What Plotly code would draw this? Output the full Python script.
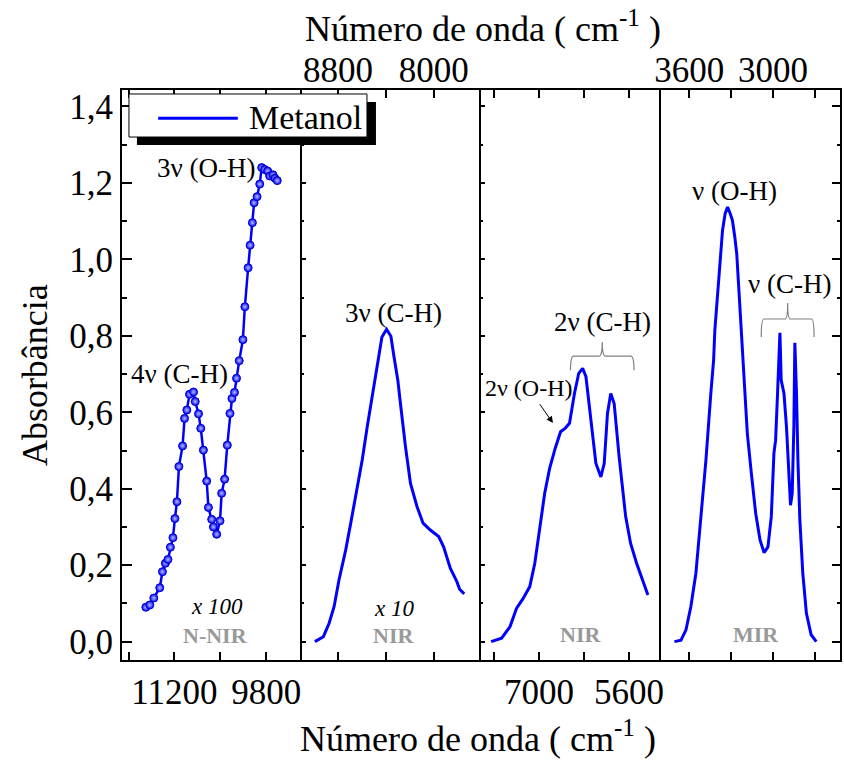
import plotly.graph_objects as go

# ---- Spectra of methanol, four wavenumber windows ----
# N-NIR window (absorbance scaled x100), measured points
nnir_wn = [11636, 11576, 11515, 11424, 11383, 11338, 11299, 11262, 11223, 11193,
           11162, 11132, 11076, 11046, 11011, 10970, 10909, 10883, 10833, 10798,
           10758, 10708, 10682, 10632, 10606, 10556, 10505, 10480, 10435, 10394,
           10353, 10323, 10284, 10253, 10212, 10156, 10126, 10076, 10046, 10011,
           9985, 9940, 9899, 9869, 9823, 9778, 9747, 9697, 9667, 9632]
nnir_abs = [0.090, 0.096, 0.114, 0.141, 0.183, 0.205, 0.215, 0.247, 0.272, 0.322,
            0.366, 0.458, 0.512, 0.584, 0.606, 0.647, 0.653, 0.628, 0.596, 0.558,
            0.501, 0.420, 0.351, 0.320, 0.300, 0.281, 0.316, 0.388, 0.425, 0.514,
            0.597, 0.636, 0.652, 0.689, 0.735, 0.790, 0.876, 0.978, 1.037, 1.096,
            1.148, 1.164, 1.197, 1.240, 1.235, 1.231, 1.218, 1.221, 1.212, 1.206]

# NIR window 1 (absorbance scaled x10)
nir1_wn = [8994, 8923, 8875, 8833, 8792, 8736, 8694, 8639, 8598, 8556,
           8500, 8467, 8433, 8394, 8358, 8333, 8300, 8278, 8236, 8194,
           8139, 8089, 8028, 7958, 7917, 7861, 7806, 7783, 7744]
nir1_abs = [0.000, 0.013, 0.048, 0.092, 0.162, 0.240, 0.310, 0.401, 0.475, 0.562,
            0.674, 0.736, 0.797, 0.817, 0.799, 0.747, 0.684, 0.623, 0.510, 0.414,
            0.353, 0.310, 0.292, 0.275, 0.248, 0.192, 0.157, 0.137, 0.125]

# NIR window 2
nir2_wn = [7746, 7582, 7452, 7351, 7247, 7144, 7066, 6989, 6912, 6835,
           6748, 6665, 6594, 6526, 6449, 6382, 6321, 6270, 6193, 6115,
           6038, 5986, 5935, 5884, 5831, 5754, 5652, 5575, 5482, 5394, 5306]
nir2_abs = [0.000, 0.009, 0.039, 0.087, 0.113, 0.144, 0.205, 0.301, 0.388, 0.453,
            0.506, 0.549, 0.558, 0.571, 0.649, 0.702, 0.715, 0.693, 0.571, 0.466,
            0.431, 0.466, 0.597, 0.649, 0.623, 0.484, 0.327, 0.257, 0.205, 0.161, 0.122]

# MIR window
mir_wn = [3707, 3660, 3624, 3589, 3553, 3517, 3481, 3446, 3426, 3417,
          3398, 3379, 3362, 3343, 3326, 3307, 3291, 3274, 3260, 3243,
          3226, 3212, 3203, 3184, 3155, 3124, 3093, 3064, 3036, 3012,
          2993, 2981, 2969, 2957, 2950, 2941, 2921, 2903, 2886, 2874,
          2862, 2850, 2843, 2831, 2821, 2807, 2786, 2760, 2726, 2689]
mir_abs = [0.000, 0.004, 0.031, 0.092, 0.179, 0.327, 0.475, 0.649, 0.736, 0.815,
           0.911, 1.015, 1.076, 1.120, 1.137, 1.120, 1.102, 1.059, 1.015, 0.911,
           0.806, 0.710, 0.649, 0.545, 0.440, 0.336, 0.266, 0.233, 0.248, 0.327,
           0.493, 0.527, 0.632, 0.736, 0.808, 0.684, 0.649, 0.562, 0.431, 0.357,
           0.388, 0.562, 0.782, 0.649, 0.475, 0.318, 0.179, 0.074, 0.018, 0.000]

# Axis windows, labelled ticks and unlabelled ticks
x_ranges = [[12000, 9262], [9106, 7604], [7903, 5110], [3807, 2519]]
x_major = [[11200, 9800], [8800, 8000], [7000, 5600], [3600, 3000]]
x_minor = [[11900, 10500], [8400], [7700, 6300], [3300, 2700]]
x_sides = ["bottom", "top", "bottom", "top"]
y_range = [-0.048, 1.443]

BLUE = "#0000ff"
FONT = "Liberation Serif"

fig = go.Figure()

fig.add_trace(go.Scatter(
    x=nnir_wn, y=nnir_abs, mode="lines+markers", name="Metanol",
    line=dict(color=BLUE, width=2.5),
    marker=dict(size=8, color=BLUE, line=dict(color="#0000d0", width=1),
                gradient=dict(type="radial", color="#b8c0ff")),
    xaxis="x", yaxis="y", showlegend=False))
fig.add_trace(go.Scatter(x=nir1_wn, y=nir1_abs, mode="lines", line=dict(color=BLUE, width=3),
                         xaxis="x2", yaxis="y2", showlegend=False))
fig.add_trace(go.Scatter(x=nir2_wn, y=nir2_abs, mode="lines", line=dict(color=BLUE, width=3),
                         xaxis="x3", yaxis="y3", showlegend=False))
fig.add_trace(go.Scatter(x=mir_wn, y=mir_abs, mode="lines", line=dict(color=BLUE, width=3),
                         xaxis="x4", yaxis="y4", showlegend=False))

tick_font = dict(family=FONT, size=35, color="black")
layout = dict(
    width=844, height=760,
    margin=dict(l=122, r=1, t=90, b=100),
    paper_bgcolor="white", plot_bgcolor="white",
    separators=",.",
    font=dict(family=FONT, color="black"),
)

axis_names = ["", "2", "3", "4"]
for i in range(4):
    n = axis_names[i]
    layout["xaxis" + n] = dict(
        domain=[0.25 * i, 0.25 * (i + 1)], range=x_ranges[i], anchor="y" + n,
        side=x_sides[i], tickmode="array", tickvals=x_major[i],
        ticktext=[str(v) for v in x_major[i]],
        ticks="inside", ticklen=8, tickwidth=1.5, tickcolor="black",
        minor=dict(tickmode="array", tickvals=x_minor[i], ticks="inside", ticklen=8,
                   tickwidth=1.5, tickcolor="black"),
        showline=True, linewidth=2, linecolor="black", mirror="ticks",
        ticklabelstandoff=-8 if x_sides[i] == "top" else 0,
        showgrid=False, zeroline=False, tickfont=tick_font)

common_y = dict(range=y_range, showgrid=False, zeroline=False, showline=True,
                linewidth=2, linecolor="black", tickmode="linear", tick0=0, dtick=0.2,
                ticks="inside", tickcolor="black", tickwidth=1.5)
# left axis with labels; the panel separators are drawn by the axes of panels 2-4
layout["yaxis"] = dict(common_y, anchor="x", side="left", ticklen=10, mirror=False,
                       tickformat=".1f", tickfont=tick_font,
                       minor=dict(ticks="inside", ticklen=5, dtick=0.1, tickcolor="black", tickwidth=1.5))
for n in ["2", "3"]:
    layout["yaxis" + n] = dict(common_y, anchor="x" + n, side="left", matches="y", ticklen=4,
                               mirror=False, showticklabels=False,
                               minor=dict(ticks="inside", ticklen=2, dtick=0.1, tickcolor="black"))
layout["yaxis4"] = dict(common_y, anchor="x4", side="right", matches="y", ticklen=8,
                        mirror=True, showticklabels=False,
                        minor=dict(ticks="inside", ticklen=3, dtick=0.1, tickcolor="black"))
fig.update_layout(**layout)

# Axis titles
title_font = dict(family=FONT, size=36, color="black")
axis_title = "Número de onda ( cm<sup>-1</sup> )"
fig.add_annotation(text=axis_title, xref="paper", yref="paper", x=0.496, y=-0.135,
                   xanchor="center", yanchor="middle", showarrow=False, font=title_font)
fig.add_annotation(text=axis_title, xref="paper", yref="paper", x=0.503, y=1.112,
                   xanchor="center", yanchor="middle", showarrow=False, font=title_font)
fig.add_annotation(text="Absorbância", xref="paper", yref="paper", x=-0.121, y=0.5,
                   textangle=-90, xanchor="center", yanchor="middle", showarrow=False,
                   font=title_font)

# Band assignments
bands = [
    ("3ν (O-H)", "x", "y", 10720, 1.240, 27),
    ("4ν (C-H)", "x", "y", 11121, 0.700, 27),
    ("3ν (C-H)", "x2", "y2", 8333, 0.859, 27),
    ("2ν (C-H)", "x3", "y3", 6012, 0.836, 27),
    ("2ν (O-H)", "x3", "y3", 7154, 0.663, 24),
    ("ν (O-H)", "x4", "y4", 3276, 1.178, 27),
    ("ν (C-H)", "x4", "y4", 2884, 0.935, 27),
]
for txt, xr, yr, xv, yv, sz in bands:
    fig.add_annotation(text=txt, xref=xr, yref=yr, x=xv, y=yv, showarrow=False,
                       font=dict(family=FONT, size=sz, color="black"))

# Arrow pointing to the 2ν (O-H) shoulder
fig.add_annotation(x=6784, y=0.572, ax=7005, ay=0.625, xref="x3", yref="y3",
                   axref="x3", ayref="y3", text="", showarrow=True,
                   arrowhead=2, arrowsize=1.3, arrowwidth=1, arrowcolor="black")

# Braces grouping the C-H bands
def brace(xref, yref, x1, x2, ytop, yend, ytip):
    xm = (x1 + x2) / 2
    d = abs(x2 - x1) * 0.05
    s = 1 if x2 > x1 else -1
    path = (f"M {x1},{yend} Q {x1},{ytop} {x1 + s * d},{ytop} "
            f"L {xm - s * d},{ytop} Q {xm},{ytop} {xm},{ytip} "
            f"Q {xm},{ytop} {xm + s * d},{ytop} L {x2 - s * d},{ytop} "
            f"Q {x2},{ytop} {x2},{yend}")
    fig.add_shape(type="path", path=path, xref=xref, yref=yref,
                  line=dict(color="#808080", width=1.2))

brace("x3", "y3", 6511, 5522, 0.747, 0.710, 0.784)
brace("x4", "y4", 3084, 2705, 0.844, 0.797, 0.886)

# Region labels and scale factors
gray_font = dict(family=FONT, size=22, color="#999999")
ital_font = dict(family=FONT, size=23, color="black", style="italic")
fig.add_annotation(text="x 100", xref="x", yref="y", x=10546, y=0.091, showarrow=False, font=ital_font)
fig.add_annotation(text="<b>N-NIR</b>", xref="x", yref="y", x=10576, y=0.015, showarrow=False, font=gray_font)
fig.add_annotation(text="x 10", xref="x2", yref="y2", x=8333, y=0.088, showarrow=False, font=ital_font)
fig.add_annotation(text="<b>NIR</b>", xref="x2", yref="y2", x=8333, y=0.015, showarrow=False, font=gray_font)
fig.add_annotation(text="<b>NIR</b>", xref="x3", yref="y3", x=6352, y=0.020, showarrow=False, font=gray_font)
fig.add_annotation(text="<b>MIR</b>", xref="x4", yref="y4", x=3121, y=0.020, showarrow=False, font=gray_font)

# Legend box with drop shadow
fig.add_shape(type="rect", xref="paper", yref="paper", x0=0.0208, x1=0.3537, y0=0.9035, y1=0.9789,
              fillcolor="black", line=dict(width=0), layer="above")
fig.add_shape(type="rect", xref="paper", yref="paper", x0=0.0097, x1=0.3412, y0=0.9175, y1=0.993,
              fillcolor="white", line=dict(color="black", width=1), layer="above")
fig.add_shape(type="line", xref="paper", yref="paper", x0=0.0503, x1=0.1613, y0=0.9503, y1=0.9503,
              line=dict(color=BLUE, width=3), layer="above")
fig.add_annotation(text="Metanol", xref="paper", yref="paper", x=0.1734, y=0.9526,
                   xanchor="left", yanchor="middle", showarrow=False,
                   font=dict(family=FONT, size=34, color="black"))

fig.write_html("out.html")
